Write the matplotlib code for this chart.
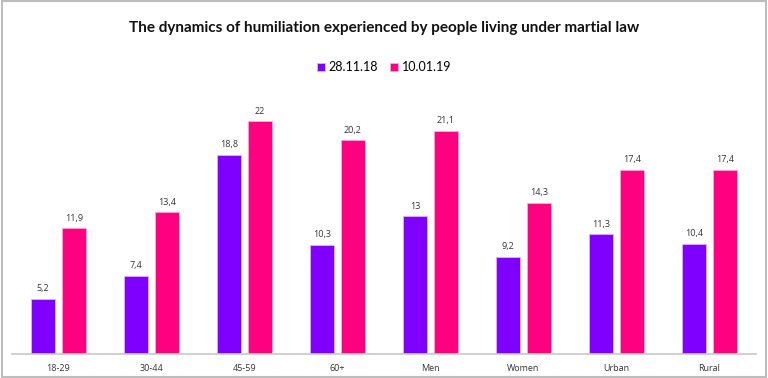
import matplotlib
matplotlib.use("Agg")
import matplotlib.pyplot as plt
import numpy as np
from matplotlib.patches import Rectangle

categories = ["18-29", "30-44", "45-59", "60+", "Men", "Women", "Urban", "Rural"]
series_names = ["28.11.18", "10.01.19"]
s1 = [5.2, 7.4, 18.8, 10.3, 13, 9.2, 11.3, 10.4]
s2 = [11.9, 13.4, 22, 20.2, 21.1, 14.3, 17.4, 17.4]
colors = ["#8000FF", "#FF0080"]

plt.rcParams['font.family'] = ['Open Sans', 'DejaVu Sans']

fig = plt.figure(figsize=(7.68, 3.78), dpi=100)
ax = fig.add_axes([12/768, 1-354/378, 744/768, (354-100)/378])

x = np.arange(len(categories))
w = 0.26
off = 0.165
b1 = ax.bar(x - off, s1, w, color=colors[0], edgecolor="#d8b8f0", linewidth=0.6, label=series_names[0])
b2 = ax.bar(x + off, s2, w, color=colors[1], edgecolor="#f8b0d0", linewidth=0.6, label=series_names[1])

def fmt(v):
    return ("%g" % v).replace(".", ",")

for bars, vals in ((b1, s1), (b2, s2)):
    for r, v in zip(bars, vals):
        ax.annotate(fmt(v), (r.get_x() + r.get_width()/2, v), xytext=(0, 4),
                    textcoords="offset points", ha="center", va="bottom",
                    fontsize=6.5, color="#333333")

ax.set_xlim(-0.5, len(categories) - 0.5)
ax.set_ylim(0, 24)
ax.set_xticks(x)
ax.set_xticklabels(categories, fontsize=6.5, color="#333333")
ax.tick_params(axis='x', length=0, pad=7)
ax.set_yticks([])
for s in ("top", "right", "left"):
    ax.spines[s].set_visible(False)
ax.spines["bottom"].set_color("#c8c8c8")
ax.spines["bottom"].set_linewidth(1.2)

fig.text(0.5, 1-28/378, "The dynamics of humiliation experienced by people living under martial law",
         ha="center", va="center", fontsize=11, fontweight="bold", color="#111111",
         family=["Lato", "DejaVu Sans"])

leg = fig.legend(handles=[b1, b2], labels=series_names, loc="center", bbox_to_anchor=(0.5, 1-67/378),
                 ncol=2, frameon=False, prop={"family": ["Lato", "DejaVu Sans"], "size": 9},
                 handlelength=0.6, handleheight=0.6, handletextpad=0.3, columnspacing=1.0)

fig.patches.append(Rectangle((0.002, 0.003), 0.996, 0.994, transform=fig.transFigure,
                             fill=False, edgecolor="#bdbdbd", linewidth=1.5))

fig.savefig("out.png", dpi=100)
